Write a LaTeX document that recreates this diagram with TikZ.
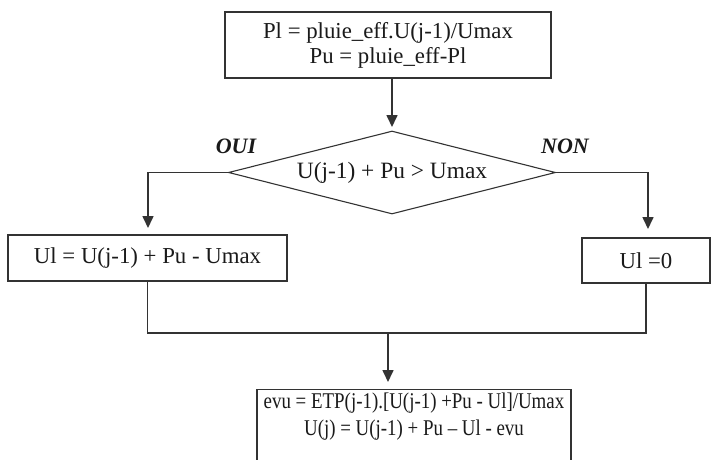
\documentclass[tikz,border=0pt]{standalone}
\usepackage{fontspec}
\setmainfont{Liberation Serif}
\newfontfamily\condfont[FakeStretch=0.84]{Liberation Serif}
\usetikzlibrary{shapes.geometric,arrows.meta}
\definecolor{linec}{HTML}{333333}
\definecolor{txt}{HTML}{1A1A1A}
\begin{document}
\begin{tikzpicture}[x=1pt,y=-1pt,
  fnt/.style={font=\fontsize{22.8}{25}\selectfont},
  box/.style={draw=linec, line width=1.1pt, rectangle, inner sep=0pt, align=center, text=txt, fnt},
  arr/.style={draw=linec, line width=1.6pt, -{Triangle[length=12pt,width=11pt]}},
  ln/.style={draw=linec, line width=1.1pt},
  lab/.style={text=txt, font=\fontsize{22}{26}\selectfont\bfseries\itshape, anchor=base, inner sep=0pt}]
\useasboundingbox (0,0) rectangle (712,459);
\clip (0,0) rectangle (712,459);
\fill[white] (0,0) rectangle (712,459);
\node[box, minimum width=326pt, minimum height=66pt] (top) at (388,45) {Pl = pluie\_eff.U(j-1)/Umax\\Pu = pluie\_eff-Pl};
\node[draw=linec, line width=1.1pt, diamond, aspect=3.9, inner sep=0pt, minimum width=327pt, minimum height=83pt, text=txt, font=\fontsize{23.4}{26}\selectfont] (dia) at (392,172.5) {U(j-1) + Pu > Umax};
\node[box, minimum width=279pt, minimum height=46pt] (left) at (147.5,258) {Ul = U(j-1) + Pu - Umax};
\node[box, minimum width=128pt, minimum height=45pt] (right) at (646,260.5) {Ul =0};
\node[box, minimum width=314pt, minimum height=90pt, anchor=north] (bot) at (414,389) {};
\node[text=txt, align=center, font=\condfont\fontsize{22.5}{27}\selectfont, inner sep=0pt] (bottext) at (414,417) {evu = ETP(j-1).[U(j-1) +Pu - Ul]/Umax\\U(j) = U(j-1) + Pu – Ul - evu};
\node[lab] (oui) at (236,153) {OUI};
\node[lab] (non) at (565,153) {NON};
\coordinate (dt) at (392,127);
\coordinate (lt) at (148,228);
\coordinate (rt) at (648,229);
\coordinate (mj) at (388,333);
\coordinate (bt) at (388,382);
\draw[arr] (top.south -| dt) -- (dt);
\draw[arr] (dia.west) -| (lt);
\draw[arr] (dia.east) -| (rt);
\draw[ln] (left.south) |- (mj) -| (right.south);
\draw[arr] (mj) -- (bt);
\end{tikzpicture}
\end{document}
